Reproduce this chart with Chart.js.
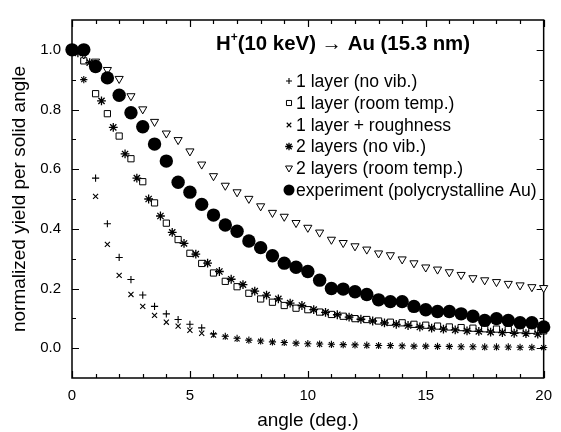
<!DOCTYPE html>
<html><head><meta charset="utf-8">
<script src="https://cdn.jsdelivr.net/npm/chart.js@4/dist/chart.umd.min.js"></script>
<style>html,body{margin:0;padding:0;background:#fff;}#wrap{width:561px;height:432px;}</style>
</head><body><div id="wrap"><canvas id="c" width="561" height="432"></canvas></div>
<script>
const anglesHalf = [0,0.5,1,1.5,2,2.5,3,3.5,4,4.5,5,5.5,6,6.5,7,7.5,8,8.5,9,9.5,10,10.5,11,11.5,12,12.5,13,13.5,14,14.5,15,15.5,16,16.5,17,17.5,18,18.5,19,19.5,20];
const anglesQuarter = [0.25,0.75,1.25,1.75,2.25,2.75,3.25,3.75,4.25,4.75,5.25,5.75,6.25,6.75,7.25,7.75,8.25,8.75,9.25,9.75,10.25,10.75,11.25,11.75,12.25,12.75,13.25,13.75,14.25,14.75,15.25,15.75,16.25,16.75,17.25,17.75,18.25,18.75,19.25,19.75];

const oneLayerNoVib = [1.0,0.90,0.570,0.417,0.304,0.230,0.178,0.140,0.115,0.096,0.080,0.068,0.048,0.040,0.033,0.027,0.024,0.021,0.019,0.017,0.015,0.014,0.013,0.012,0.011,0.010,0.009,0.009,0.008,0.007,0.007,0.006,0.006,0.005,0.005,0.004,0.004,0.004,0.003,0.003,0.002];
const oneLayerRoomTemp = [1.0,0.963,0.853,0.786,0.711,0.635,0.558,0.487,0.419,0.364,0.318,0.284,0.252,0.224,0.206,0.184,0.165,0.154,0.143,0.134,0.129,0.121,0.113,0.107,0.099,0.096,0.091,0.087,0.085,0.080,0.077,0.074,0.071,0.069,0.067,0.065,0.064,0.063,0.062,0.060,0.058];
const oneLayerRoughness = [1.0,0.90,0.509,0.348,0.244,0.180,0.140,0.110,0.087,0.074,0.060,0.050,0.044,0.038,0.031,0.026,0.023,0.020,0.018,0.016,0.014,0.013,0.012,0.011,0.010,0.009,0.008,0.008,0.007,0.006,0.006,0.005,0.005,0.004,0.004,0.003,0.003,0.003,0.002,0.002,0.002];
const twoLayersNoVib = [0.99,0.957,0.829,0.740,0.651,0.570,0.500,0.443,0.388,0.351,0.315,0.285,0.257,0.231,0.213,0.191,0.178,0.165,0.151,0.143,0.129,0.120,0.112,0.104,0.097,0.091,0.085,0.080,0.076,0.071,0.067,0.064,0.061,0.058,0.056,0.054,0.052,0.050,0.049,0.047];
const twoLayersRoomTemp = [1.0,0.985,0.961,0.933,0.903,0.845,0.801,0.759,0.720,0.698,0.660,0.616,0.577,0.545,0.523,0.501,0.476,0.454,0.441,0.420,0.404,0.388,0.364,0.353,0.342,0.331,0.318,0.312,0.298,0.285,0.271,0.264,0.255,0.246,0.235,0.228,0.222,0.216,0.211,0.205,0.202];
const experiment = [1.0,1.0,0.944,0.906,0.848,0.789,0.742,0.684,0.627,0.556,0.523,0.482,0.446,0.413,0.392,0.359,0.337,0.310,0.285,0.271,0.257,0.228,0.200,0.198,0.189,0.180,0.162,0.156,0.156,0.140,0.129,0.123,0.123,0.115,0.107,0.093,0.099,0.093,0.085,0.085,0.071];

const seriesLabels = ["1 layer (no vib.)","1 layer (room temp.)","1 layer + roughness","2 layers (no vib.)","2 layers (room temp.)","experiment (polycrystalline Au)"];
const chartTitleMain = "H";
const chartTitleSup = "+";
const chartTitleRest = "(10 keV) \u2192 Au (15.3 nm)";
const xAxisTitle = "angle (deg.)";
const yAxisTitle = "normalized yield per solid angle";
const xTickValues = [0,5,10,15,20];
const xMinorTicks = [1,2,3,4,6,7,8,9,11,12,13,14,16,17,18,19];
const yTickValues = [0,0.2,0.4,0.6,0.8,1.0];
const yMinorTicks = [0.1,0.3,0.5,0.7,0.9];

const FONT = '"Liberation Sans", Arial, Helvetica, sans-serif';
const pts = (xs, ys) => ys.map((v, i) => ({x: xs[i], y: v}));

const styles = [
  {pointStyle:'cross', radius:3.6, legendRadius:3, bg:'#000', rotation:0, bw:1.1},
  {pointStyle:'rect', radius:4.4, legendRadius:3.6, bg:'#fff', rotation:0, bw:1},
  {pointStyle:'crossRot', radius:3.6, legendRadius:3.2, bg:'#000', rotation:0, bw:1.1},
  {pointStyle:'star', radius:4.4, legendRadius:3.8, bg:'#000', rotation:0, bw:1.3},
  {pointStyle:'triangle', radius:4.7, legendRadius:4, bg:'#fff', rotation:180, bw:1},
  {pointStyle:'circle', radius:6.7, legendRadius:5.5, bg:'#000', rotation:0, bw:0}
];
const seriesData = [
  pts(anglesHalf, oneLayerNoVib),
  pts(anglesHalf, oneLayerRoomTemp),
  pts(anglesHalf, oneLayerRoughness),
  pts(anglesQuarter, twoLayersNoVib),
  pts(anglesHalf, twoLayersRoomTemp),
  pts(anglesHalf, experiment)
];
// dataset index 0 is drawn on top: put experiment first
const drawOrder = [5,4,3,1,0,2];
const datasets = drawOrder.map(i => ({
  label: seriesLabels[i],
  data: seriesData[i],
  showLine: false,
  clip: false,
  pointStyle: styles[i].pointStyle,
  pointRadius: styles[i].radius,
  pointRotation: styles[i].rotation,
  pointBackgroundColor: styles[i].bg,
  pointBorderColor: '#000',
  pointBorderWidth: styles[i].bw,
  pointHoverRadius: styles[i].radius
}));

function drawMarker(ctx, st, r, x, y) {
  ctx.save();
  ctx.fillStyle = st.bg; ctx.strokeStyle = '#000'; ctx.lineWidth = st.bw || 1;
  const opts = {pointStyle: st.pointStyle, radius: r, rotation: st.rotation, borderWidth: st.bw};
  if (Chart.helpers && Chart.helpers.drawPoint) {
    Chart.helpers.drawPoint(ctx, opts, x, y);
  } else {
    ctx.beginPath(); ctx.arc(x, y, r, 0, Math.PI*2); ctx.fill(); ctx.stroke();
  }
  ctx.restore();
}

const framePlugin = {
  id: 'frame',
  beforeDatasetsDraw(chart) {
    const {ctx, chartArea: a, scales: {x, y}} = chart;
    ctx.save();
    ctx.strokeStyle = '#000';
    ctx.lineWidth = 1.2;
    ctx.beginPath();
    const tick = (vals, len, horiz) => {
      vals.forEach(v => {
        if (horiz) {
          const px = Math.round(x.getPixelForValue(v)) + 0.5;
          ctx.moveTo(px, a.bottom); ctx.lineTo(px, a.bottom - len);
          ctx.moveTo(px, a.top); ctx.lineTo(px, a.top + len);
        } else {
          const py = Math.round(y.getPixelForValue(v)) + 0.5;
          ctx.moveTo(a.left, py); ctx.lineTo(a.left + len, py);
          ctx.moveTo(a.right, py); ctx.lineTo(a.right - len, py);
        }
      });
    };
    tick(xTickValues, 7, true);
    tick(xMinorTicks, 4, true);
    tick(yTickValues, 7, false);
    tick(yMinorTicks, 4, false);
    ctx.stroke();
    ctx.lineWidth = 1.5;
    ctx.strokeRect(a.left, a.top, a.right - a.left, a.bottom - a.top);
    ctx.restore();
  },
  afterDraw(chart) {
    const ctx = chart.ctx;
    ctx.save();
    ctx.fillStyle = '#000';
    ctx.textBaseline = 'alphabetic';
    // title
    let tx = 216; const tb = 50;
    ctx.font = 'bold 20.4px ' + FONT;
    ctx.fillText(chartTitleMain, tx, tb);
    tx += ctx.measureText(chartTitleMain).width;
    ctx.font = 'bold 12px ' + FONT;
    ctx.fillText(chartTitleSup, tx, tb - 9);
    tx += ctx.measureText(chartTitleSup).width;
    ctx.font = 'bold 20.4px ' + FONT;
    ctx.fillText(chartTitleRest, tx, tb);
    // legend
    const rows = [81, 103, 125, 146.5, 168, 190];
    ctx.font = '17.6px ' + FONT;
    ctx.textBaseline = 'middle';
    seriesLabels.forEach((lab, i) => {
      drawMarker(ctx, styles[i], styles[i].legendRadius, 289, rows[i]);
      ctx.fillStyle = '#000';
      ctx.fillText(lab, 296, rows[i] + 1);
    });
    ctx.restore();
  }
};

new Chart(document.getElementById('c'), {
  type: 'scatter',
  data: {datasets},
  options: {
    responsive: false,
    devicePixelRatio: 1,
    animation: false,
    events: [],
    layout: {padding: {left: 0, right: 8, top: 13, bottom: 0}},
    plugins: {legend: {display: false}, tooltip: {enabled: false}, title: {display: false}},
    scales: {
      x: {
        type: 'linear', min: 0, max: 20,
        afterBuildTicks: s => { s.ticks = xTickValues.map(v => ({value: v})); },
        afterFit: s => { s.height = 54; },
        grid: {display: false, drawTicks: false},
        border: {display: false},
        ticks: {padding: 9, color: '#000', font: {family: FONT, size: 15}, maxRotation: 0, callback: v => String(v)},
        title: {display: true, text: xAxisTitle, color: '#000', font: {family: FONT, size: 19}, padding: {top: 0, bottom: 0}}
      },
      y: {
        type: 'linear', min: -0.1, max: 1.1,
        afterBuildTicks: s => { s.ticks = yTickValues.map(v => ({value: v})); },
        afterFit: s => { s.width = 72; },
        grid: {display: false, drawTicks: false},
        border: {display: false},
        ticks: {padding: 11, color: '#000', font: {family: FONT, size: 15}, callback: v => Number(v).toFixed(1)},
        title: {display: true, text: yAxisTitle, color: '#000', font: {family: FONT, size: 19}, padding: {top: 8, bottom: 0}}
      }
    }
  },
  plugins: [framePlugin]
});
</script>
</body></html>
